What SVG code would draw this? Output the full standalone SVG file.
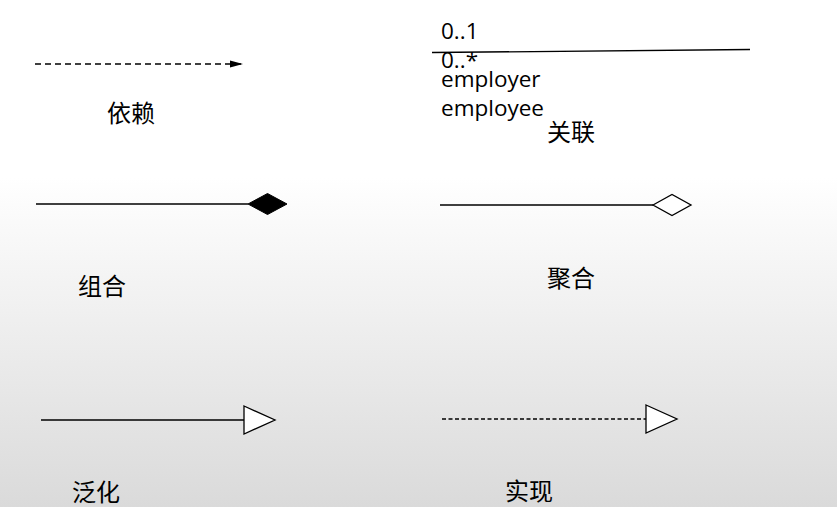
<svg xmlns="http://www.w3.org/2000/svg" width="837" height="507" viewBox="0 0 837 507">
<defs>
<linearGradient id="bg" x1="0" y1="0" x2="0" y2="1">
<stop offset="0" stop-color="#ffffff"/>
<stop offset="0.35" stop-color="#ffffff"/>
<stop offset="1" stop-color="#dadada"/>
</linearGradient>
<marker id="arrowFilled" markerWidth="13" markerHeight="8" refX="13" refY="4" orient="auto" markerUnits="userSpaceOnUse">
<path d="M0,0.5 L13,4 L0,7.5 Z" fill="#000"/>
</marker>
</defs>
<style>
.ln{stroke:#000;stroke-width:1.3;fill:none}
.cn{font-family:"Noto Sans CJK SC","Noto Sans",sans-serif;font-size:24px;fill:#000}
.en{font-family:"Open Sans","Noto Sans",sans-serif;font-size:22.5px;fill:#000}
</style>
<rect x="0" y="0" width="837" height="507" fill="url(#bg)"/>
<g id="connectors">
<line class="ln" x1="35" y1="64" x2="243" y2="64" stroke-dasharray="6,4" marker-end="url(#arrowFilled)"/>
<line class="ln" x1="432" y1="52.5" x2="750" y2="49.5"/>
<line class="ln" x1="36" y1="204" x2="248" y2="204"/>
<line class="ln" x1="440" y1="205" x2="653" y2="205"/>
<line class="ln" x1="41" y1="420" x2="244" y2="420"/>
<line class="ln" x1="442" y1="419" x2="646" y2="419" stroke-dasharray="4,2.5"/>
</g>
<g id="dependency">
<text class="cn" x="107" y="122">依赖</text>
</g>
<g id="association">
<text class="en" x="441" y="39">0..1</text>
<text class="en" x="441" y="68">0..*</text>
<text class="en" x="441" y="87">employer</text>
<text class="en" x="441" y="116">employee</text>
<text class="cn" x="547" y="141">关联</text>
</g>
<g id="composition">
<path d="M248,204 L267.5,193.5 L287,204 L267.5,214.5 Z" fill="#000" stroke="#000" stroke-width="1"/>
<text class="cn" x="78" y="295">组合</text>
</g>
<g id="aggregation">
<path d="M653,205 L672,194.5 L691,205 L672,215.5 Z" fill="#fff" stroke="#000" stroke-width="1.3"/>
<text class="cn" x="547" y="287">聚合</text>
</g>
<g id="generalization">
<path d="M244,406 L275,420 L244,434 Z" fill="#fff" stroke="#000" stroke-width="1.3"/>
<text class="cn" x="72" y="501">泛化</text>
</g>
<g id="realization">
<path d="M646,405 L677,419 L646,433 Z" fill="#fff" stroke="#000" stroke-width="1.3"/>
<text class="cn" x="505" y="500">实现</text>
</g>
</svg>
